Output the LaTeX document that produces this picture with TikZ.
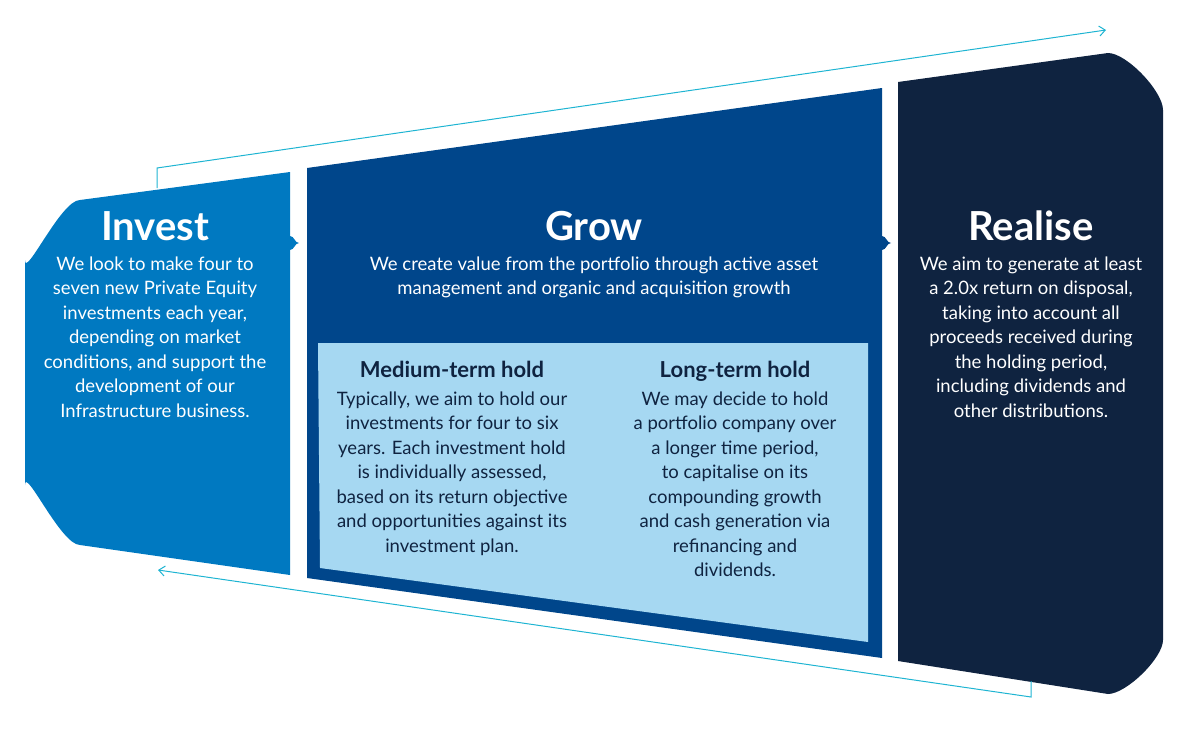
\documentclass[tikz,border=0pt]{standalone}
\usepackage{fontspec}
\setmainfont{Lato}
\usetikzlibrary{arrows.meta}
\definecolor{investblue}{RGB}{0,121,193}
\definecolor{growblue}{RGB}{0,70,139}
\definecolor{realisenavy}{RGB}{15,35,64}
\definecolor{holdblue}{RGB}{166,216,242}
\definecolor{loopcyan}{RGB}{30,180,210}
\begin{document}
\begin{tikzpicture}[
		x=1pt, y=-1pt,
		title/.style = {text=white, font=\fontsize{40}{44}\selectfont\bfseries, anchor=base},
		body/.style = {text=white, font=\fontsize{18.5}{24.5}\selectfont, align=center, anchor=north},
		holdtitle/.style = {text=realisenavy, font=\fontsize{22}{26}\selectfont\bfseries, anchor=base},
		holdbody/.style = {text=realisenavy, font=\fontsize{18.5}{24.5}\selectfont, align=center, anchor=north},
		loop/.style = {draw=loopcyan, line width=1pt, -{Straight Barb[length=6pt,width=10pt]}}
	]
	\useasboundingbox (0,0) rectangle (1180,728);
	% stage shapes
	\fill[investblue] (25,260) to[out=-90,in=180,looseness=0.6] (80,200) -- (290,172) -- (290,236)
		to[out=0,in=180] (299,243) to[out=180,in=0] (290,250) -- (290,575) -- (80,545)
		to[out=180,in=90,looseness=0.6] (25,485) -- cycle;
	\fill[growblue] (307,168) -- (882,88) -- (882,236) to[out=0,in=180] (891,243)
		to[out=180,in=0] (882,250) -- (882,658) -- (307,578) -- cycle;
	\fill[realisenavy] (898,82) -- (1108,53) to[out=0,in=90,looseness=0.6] (1163,110) -- (1163,640)
		to[out=-90,in=0,looseness=0.6] (1108,694) -- (898,661) -- cycle;
	\fill[holdblue] (318,343) -- (868,343) -- (868,642) -- (320,568) -- cycle;
	% cycle arrows
	\coordinate (topstart) at (157,188);
	\coordinate (topend) at (1106,30);
	\coordinate (botstart) at (1031,681);
	\coordinate (botend) at (158,570);
	\draw[loop] (topstart) -- (157,168) -- (topend);
	\draw[loop] (botstart) -- (1031,697) -- (botend);
	% texts
	\node[title] (invest) at (155,240) {Invest};
	\node[body] (investtext) at (155,253) {We look to make four to\\seven new Private Equity\\investments each year,\\depending on market\\conditions, and support the\\development of our\\Infrastructure business.};
	\node[title] (grow) at (594,240) {Grow};
	\node[body] (growtext) at (594,253) {We create value from the portfolio through active asset\\management and organic and acquisition growth};
	\node[title] (realise) at (1031,240) {Realise};
	\node[body] (realisetext) at (1031,253) {We aim to generate at least\\a 2.0x return on disposal,\\taking into account all\\proceeds received during\\the holding period,\\including dividends and\\other distributions.};
	\node[holdtitle] (medium) at (452,377) {Medium-term hold};
	\node[holdbody] (mediumtext) at (452,388) {Typically, we aim to hold our\\investments for four to six\\years. Each investment hold\\is individually assessed,\\based on its return objective\\and opportunities against its\\investment plan.};
	\node[holdtitle] (long) at (735,377) {Long-term hold};
	\node[holdbody] (longtext) at (735,388) {We may decide to hold\\a portfolio company over\\a longer time period,\\to capitalise on its\\compounding growth\\and cash generation via\\refinancing and\\dividends.};
\end{tikzpicture}
\end{document}
